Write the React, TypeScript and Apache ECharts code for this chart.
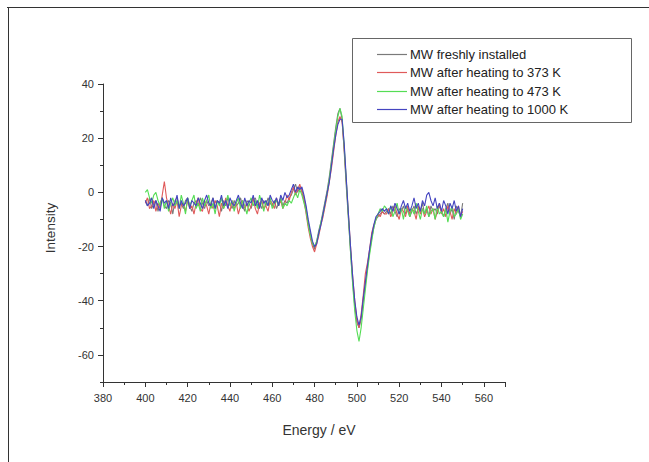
import React, { useEffect, useRef } from "react";
import * as echarts from "echarts";

// Energy grid (eV): first point and step of the recorded spectra
const ENERGY_START = 400;
const ENERGY_STEP = 1;

const seriesNames = [
  "MW freshly installed",
  "MW after heating to 373 K",
  "MW after heating to 473 K",
  "MW after heating to 1000 K",
];

const yTickValues = [-60, -40, -20, 0, 20, 40];

const freshly = [
  -3, -5, -2, -6, -4, -3, -7, -4, -2, -5,
  -6, -3, -4, -8, -3, -2, -5, -4, -6, -3,
  -2, -5, -7, -4, -3, -5, -2, -4, -6, -3,
  -5, -4, -2, -6, -3, -4, -7, -3, -5, -2,
  -4, -6, -3, -5, -4, -2, -5, -7, -3, -4,
  -6, -3, -2, -5, -4, -6, -3, -5, -2, -4,
  -5, -3, -6, -4, -2, -5, -3, -4, -2,
  -1, 1, 3, 0, 2, 1, -2,
  -6, -11, -15, -19, -21,
  -18, -14, -11, -7, -3, 1, 6, 12, 18, 24, 29, 31,
  27, 15, 2, -10, -22, -33, -42, -48, -50,
  -47, -40, -34, -28, -22, -17, -13, -10, -9, -8, -7, -8,
  -7, -6, -8, -5, -7, -9, -6, -7, -5, -8,
  -6, -9, -7, -5, -8, -6, -7, -4, -8, -6,
  -9, -5, -7, -6, -8, -5, -7, -9, -6, -4,
  -8, -6, -10, -5, -7, -9, -4,
];

const heated373 = [
  -4, -2, -6, -5, -3, -7, -4, -6, -1, 4,
  -2, -5, -8, -4, -6, -3, -9, -5, -4, -7,
  -3, -6, -5, -8, -4, -2, -6, -7, -3, -5,
  -8, -4, -6, -3, -5, -9, -4, -6, -2, -5,
  -7, -3, -6, -4, -8, -5, -3, -6, -4, -7,
  -5, -2, -6, -8, -4, -3, -6, -5, -7, -3,
  -4, -6, -2, -5, -3, -6, -4, -1, -3,
  0, 2, -1, 1, 3, 0, -3,
  -8, -13, -17, -20, -22,
  -19, -16, -12, -9, -5, -1, 4, 9, 15, 21, 26, 28,
  26, 16, 4, -8, -20, -31, -40, -47, -50,
  -45, -38, -30, -26, -21, -15, -12, -10, -8, -9, -7, -8,
  -8, -6, -9, -7, -5, -8, -10, -6, -7, -9,
  -5, -8, -6, -7, -10, -5, -8, -6, -9, -7,
  -5, -8, -6, -10, -7, -4, -8, -6, -9, -5,
  -7, -10, -6, -8, -5, -9, -7,
];

const heated473 = [
  0, 1, -2, -4, -1, 0, -3, -5, -2, -6,
  -3, -7, -4, -2, -5, -3, -6, -1, -4, -8,
  -2, -5, -3, -1, -6, -4, -7, -2, -5, -3,
  -1, -6, -4, -8, -3, -5, -2, -6, -4, -1,
  -5, -3, -7, -4, -2, -6, -3, -5, -8, -4,
  -2, -5, -3, -6, -1, -4, -7, -3, -5, -2,
  -6, -4, -3, -5, -2, -6, -4, -5, -3,
  -4, -2, 0, -2, 1, -1, -4,
  -7, -12, -16, -19, -20,
  -18, -15, -11, -8, -4, 0, 5, 11, 17, 23, 28, 31,
  28, 17, 4, -9, -22, -34, -44, -51, -55,
  -50, -43, -36, -29, -23, -18, -13, -10, -8, -6, -7, -5,
  -6, -8, -5, -9, -7, -4, -8, -6, -10, -5,
  -7, -9, -6, -8, -4, -7, -10, -6, -8, -5,
  -9, -7, -6, -10, -5, -8, -7, -9, -6, -11,
  -7, -5, -9, -8, -6, -10, -8,
];

const heated1000 = [
  -3, -5, -4, -2, -6, -3, -5, -7, -2, -4,
  -3, -6, -2, -5, -4, -1, -6, -3, -5, -4,
  -2, -6, -3, -4, -5, -2, -4, -6, -3, -1,
  -4, -5, -2, -6, -3, -4, -1, -5, -3, -6,
  -2, -4, -5, -3, -1, -4, -6, -2, -5, -3,
  -4, -1, -5, -3, -6, -2, -4, -3, -5, -1,
  -3, -4, -2, -5, -1, -3, 0, -2, -1,
  1, 3, 0, 2, 1, 2, -1,
  -5, -10, -14, -18, -20,
  -19, -15, -12, -8, -4, 0, 4, 10, 16, 21, 25, 27,
  27, 18, 5, -8, -20, -31, -40, -46, -49,
  -46, -39, -33, -27, -21, -16, -12, -9, -8, -7, -6, -7,
  -6, -8, -5, -7, -4, -6, -8, -5, -3, -6,
  -4, -7, -5, -2, -6, -4, -7, -3, -5, -1,
  0, -3, -5, -2, -6, -4, -7, -3, -5, -8,
  -4, -6, -3, -7, -5, -9, -6,
];

const seriesValues = [freshly, heated373, heated473, heated1000];
const seriesColors = ["#7a7a7a", "#e05a5a", "#55dd55", "#4545c0"];

const FONT = "'Liberation Sans', Arial, sans-serif";

export default function App() {
  const ref = useRef<HTMLDivElement>(null);

  useEffect(() => {
    if (!ref.current) return;
    const chart = echarts.init(ref.current, undefined, { renderer: "svg" });

    const series = seriesValues.map((vals, s) => ({
      name: seriesNames[s],
      type: "line",
      symbol: "none",
      yAxisIndex: 0,
      data: vals.map((v, i) => [ENERGY_START + i * ENERGY_STEP, v]),
      lineStyle: { color: seriesColors[s], width: 1.1 },
      itemStyle: { color: seriesColors[s] },
      emphasis: { disabled: true },
    }));

    // Legend drawn as graphic elements
    const legendLeft = 352;
    const legendTop = 38;
    const legendW = 279;
    const legendH = 84;
    const rowY0 = 54;
    const rowStep = 18.3;
    const legendGraphics: any[] = [
      {
        type: "rect",
        shape: { x: legendLeft + 0.5, y: legendTop + 0.5, width: legendW, height: legendH },
        style: { fill: "#fff", stroke: "#666", lineWidth: 1 },
        z: 10,
      },
    ];
    seriesNames.forEach((name, i) => {
      const y = Math.round(rowY0 + i * rowStep) + 0.5;
      legendGraphics.push({
        type: "line",
        shape: { x1: 377, y1: y, x2: 407, y2: y },
        style: { stroke: seriesColors[i], lineWidth: 1.2 },
        z: 11,
      });
      legendGraphics.push({
        type: "text",
        x: 410,
        y: y,
        style: {
          text: name,
          fontSize: 13,
          fontFamily: FONT,
          fill: "#222",
          textAlign: "left",
          textVerticalAlign: "middle",
        },
        z: 11,
      });
    });

    chart.setOption({
      animation: false,
      backgroundColor: "#ffffff",
      textStyle: { fontFamily: FONT },
      grid: { left: 103, top: 84, width: 402, height: 298 },
      xAxis: {
        type: "value",
        min: 380,
        max: 570,
        interval: 20,
        axisLine: { onZero: false, lineStyle: { color: "#333", width: 1 } },
        axisTick: { length: 5, lineStyle: { color: "#333" } },
        minorTick: { show: true, splitNumber: 2, length: 3, lineStyle: { color: "#333" } },
        splitLine: { show: false },
        axisLabel: {
          color: "#333",
          fontSize: 11,
          margin: 10,
          fontFamily: FONT,
          formatter: (v: number) => (v === 570 ? "" : String(v)),
        },
      },
      yAxis: [
        {
          type: "value",
          min: -70,
          max: 40,
          interval: 10,
          axisLine: { show: true, onZero: false, lineStyle: { color: "#333", width: 1 } },
          axisTick: { show: true, length: 5, customValues: yTickValues, lineStyle: { color: "#333" } },
          splitLine: { show: false },
          axisLabel: {
            color: "#333",
            fontSize: 11,
            margin: 9,
            fontFamily: FONT,
            customValues: yTickValues,
          },
        },
        {
          type: "value",
          min: -70,
          max: 40,
          interval: 10,
          position: "left",
          offset: 0,
          axisLine: { show: false, onZero: false },
          axisTick: { show: true, length: 3, lineStyle: { color: "#333" } },
          axisLabel: { show: false },
          splitLine: { show: false },
        },
      ],
      graphic: [
        {
          type: "line",
          shape: { x1: 7, y1: 7.5, x2: 649, y2: 7.5 },
          style: { stroke: "#333", lineWidth: 1 },
        },
        {
          type: "line",
          shape: { x1: 8.5, y1: 7, x2: 8.5, y2: 462 },
          style: { stroke: "#333", lineWidth: 1 },
        },
        {
          type: "text",
          x: 319,
          y: 430,
          style: {
            text: "Energy / eV",
            fontSize: 14,
            fontFamily: FONT,
            fill: "#333",
            textAlign: "center",
            textVerticalAlign: "middle",
          },
        },
        {
          type: "text",
          x: 50,
          y: 228,
          rotation: Math.PI / 2,
          style: {
            text: "Intensity",
            fontSize: 13.5,
            fontFamily: FONT,
            fill: "#333",
            textAlign: "center",
            textVerticalAlign: "middle",
          },
        },
        ...legendGraphics,
      ],
      series,
    });

    return () => chart.dispose();
  }, []);

  return (
    <div
      ref={ref}
      style={{ position: "fixed", left: 0, top: 0, width: 649, height: 462 }}
    />
  );
}
